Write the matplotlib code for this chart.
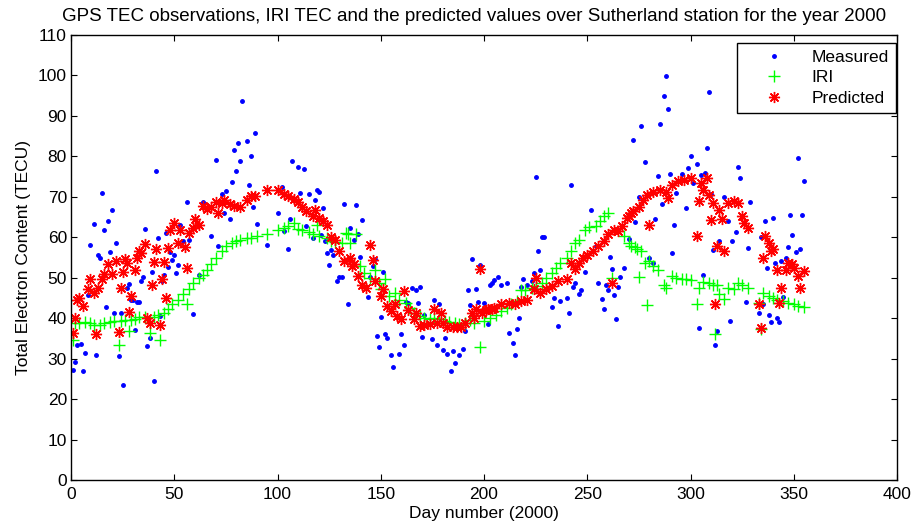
from matplotlib import pyplot as plt

# Measured GPS TEC (day, TECU).
meas_day = [1, 2, 3, 5, 6, 7, 8, 9, 11, 12, 13, 14, 15, 16, 17, 18, 19, 20, 21, 22,
            23, 24, 25, 27, 28, 29, 30, 31, 32, 33, 34, 35, 36, 37, 38, 39, 40, 41, 42, 43,
            44, 45, 46, 47, 48, 49, 50, 51, 52, 53, 54, 56, 57, 59, 62, 64, 68, 70, 71, 73,
            74, 75, 77, 78, 79, 80, 81, 82, 83, 85, 86, 87, 88, 89, 90, 95, 100, 102, 103, 105,
            106, 107, 110, 111, 113, 114, 115, 117, 118, 119, 120, 121, 122, 123, 124, 125, 126, 127, 129, 130,
            131, 132, 134, 135, 137, 138, 139, 140, 141, 144, 145, 146, 147, 148, 149, 150, 151, 152, 153, 155,
            156, 159, 160, 161, 162, 163, 165, 167, 168, 169, 170, 171, 175, 176, 177, 178, 180, 181, 182, 184,
            185, 186, 188, 190, 191, 192, 193, 194, 196, 197, 198, 200, 202, 203, 204, 205, 207, 208, 211, 212,
            214, 215, 216, 217, 218, 219, 221, 223, 224, 225, 226, 227, 228, 229, 233, 234, 236, 237, 240, 241,
            242, 243, 244, 246, 247, 249, 252, 254, 255, 257, 258, 259, 260, 261, 262, 263, 264, 265, 266, 268,
            270, 272, 273, 275, 276, 278, 280, 282, 283, 284, 285, 286, 287, 288, 289, 290, 291, 292, 293, 296,
            298, 299, 300, 301, 303, 304, 305, 306, 307, 308, 309, 310, 311, 312, 313, 314, 316, 318, 319, 320,
            322, 323, 324, 327, 328, 329, 333, 334, 335, 336, 337, 338, 339, 340, 341, 342, 343, 344, 345, 346,
            347, 348, 349, 351, 352, 353, 354, 355]
meas_tec = [27.2, 29.1, 33.4, 33.6, 27.0, 31.5, 45.8, 58.2, 63.4, 31.0, 55.5, 54.8, 71.0, 61.7, 42.8, 63.9, 56.3, 66.8, 41.3, 58.5,
            30.7, 41.4, 23.6, 47.4, 48.5, 44.6, 44.5, 37.0, 44.1, 43.9, 49.3, 50.2, 62.0, 33.1, 35.0, 51.5, 24.4, 76.4, 59.7, 40.6,
            49.2, 50.6, 61.1, 52.7, 56.3, 54.3, 55.7, 51.2, 53.1, 63.0, 59.2, 68.6, 59.4, 41.0, 50.7, 68.7, 60.2, 79.0, 57.9, 70.7,
            66.0, 71.4, 64.5, 73.7, 81.6, 76.3, 83.4, 78.8, 93.6, 83.7, 73.0, 80.0, 67.4, 85.7, 63.4, 58.2, 66.0, 72.4, 61.5, 57.2,
            64.4, 78.9, 77.3, 70.9, 76.9, 62.9, 70.8, 59.7, 69.3, 71.8, 71.1, 60.5, 67.2, 59.1, 56.2, 53.1, 56.9, 55.7, 49.2, 50.1,
            50.1, 68.2, 43.6, 62.3, 59.4, 67.9, 60.7, 55.2, 64.3, 45.2, 50.1, 52.8, 54.7, 35.5, 32.9, 40.4, 51.5, 36.0, 35.1, 30.8,
            27.9, 31.1, 36.2, 33.4, 44.1, 43.7, 47.5, 46.9, 43.7, 47.7, 35.3, 40.7, 34.9, 44.4, 33.4, 43.6, 32.1, 35.0, 31.1, 27.0,
            31.8, 28.8, 31.0, 32.5, 36.9, 46.9, 43.2, 54.6, 47.3, 43.9, 53.2, 43.8, 38.6, 48.3, 48.8, 49.5, 50.3, 48.1, 48.7, 36.3,
            33.8, 30.8, 37.3, 40.1, 47.7, 49.7, 48.1, 49.3, 51.2, 75.0, 56.7, 51.9, 60.0, 60.0, 42.8, 45.0, 38.1, 44.2, 45.1, 41.3,
            72.8, 47.8, 48.7, 45.9, 46.9, 51.3, 66.8, 57.9, 48.7, 44.7, 42.2, 48.1, 46.9, 55.2, 52.1, 45.7, 39.9, 47.7, 50.3, 52.3,
            59.6, 84.1, 63.8, 70.0, 87.5, 78.7, 54.9, 53.7, 64.5, 75.1, 88.1, 68.2, 94.8, 99.9, 91.7, 75.6, 56.2, 63.0, 71.0, 75.7,
            67.2, 77.2, 80.1, 73.3, 78.0, 37.6, 75.4, 50.7, 75.9, 82.1, 95.9, 70.8, 56.8, 33.3, 36.9, 59.1, 70.0, 64.1, 39.4, 59.0,
            61.4, 77.3, 74.7, 44.0, 57.4, 68.6, 41.3, 60.1, 43.4, 63.9, 52.5, 40.8, 39.0, 64.8, 53.7, 40.0, 39.0, 54.1, 45.2, 54.8,
            57.5, 65.5, 60.6, 56.4, 79.7, 57.2, 65.5, 73.9]

# IRI model TEC.
iri_day = [1, 2, 4, 7, 9, 11, 14, 16, 19, 21, 23, 24, 26, 28, 29, 31, 33, 36, 38, 40,
           42, 43, 45, 47, 49, 52, 54, 56, 57, 59, 62, 64, 66, 68, 70, 73, 75, 78, 80, 82,
           85, 87, 90, 95, 100, 103, 105, 108, 110, 112, 115, 117, 119, 120, 124, 126, 128, 131, 133, 134,
           135, 138, 140, 142, 145, 147, 149, 150, 152, 154, 157, 159, 162, 164, 166, 169, 171, 174, 176, 178,
           181, 183, 186, 188, 191, 193, 195, 198, 200, 203, 206, 208, 211, 213, 216, 218, 220, 223, 225, 228,
           230, 233, 235, 237, 240, 242, 244, 246, 249, 251, 254, 256, 258, 260, 262, 268, 270, 271, 273, 274,
           275, 276, 278, 279, 280, 282, 284, 287, 288, 291, 293, 296, 298, 300, 303, 304, 306, 309, 311, 312,
           313, 314, 316, 318, 321, 323, 325, 328, 333, 334, 335, 338, 340, 342, 345, 347, 350, 352, 355]
iri_tec = [34.5, 38.7, 38.7, 39.0, 38.7, 38.2, 38.2, 38.7, 39.0, 39.3, 33.3, 39.3, 39.5, 36.9, 39.6, 39.9, 40.3, 40.4, 36.4, 40.4,
           40.9, 34.6, 41.3, 42.2, 43.4, 44.6, 45.9, 43.6, 47.1, 48.7, 49.9, 50.7, 52.0, 53.3, 54.9, 56.5, 57.8, 58.5, 59.0, 59.4,
           59.7, 59.9, 60.2, 60.8, 61.7, 62.3, 62.7, 63.5, 62.1, 61.7, 61.2, 60.8, 63.1, 60.2, 59.8, 59.2, 58.8, 58.7, 61.1, 60.8,
           58.7, 60.7, 52.8, 51.2, 49.9, 52.0, 48.7, 47.1, 49.6, 45.5, 46.3, 44.6, 43.8, 42.6, 41.3, 40.5, 40.1, 39.7, 40.1, 39.7,
           39.3, 39.0, 38.7, 38.5, 38.7, 39.5, 38.7, 32.8, 39.3, 40.1, 40.9, 41.8, 42.6, 43.4, 44.2, 46.9, 46.9, 47.5, 47.9, 48.7,
           49.9, 51.2, 52.4, 53.7, 54.9, 56.5, 58.6, 59.4, 61.9, 62.6, 62.7, 63.9, 65.2, 66.0, 49.9, 60.2, 58.6, 57.8, 57.5, 57.0,
           50.1, 56.5, 53.7, 43.3, 54.1, 52.8, 52.0, 48.3, 47.5, 50.4, 49.9, 49.7, 49.6, 49.4, 43.6, 47.5, 48.9, 48.7, 48.3, 36.0,
           48.1, 45.9, 44.8, 47.5, 47.1, 48.7, 48.1, 47.5, 43.8, 37.4, 46.1, 45.5, 45.0, 44.6, 44.2, 43.8, 43.4, 43.0, 42.8]

# Predicted TEC.
pred_day = [1, 2, 3, 4, 6, 8, 9, 11, 12, 13, 15, 16, 18, 20, 22, 23, 24, 25, 26, 27,
            28, 29, 31, 32, 33, 34, 36, 37, 38, 39, 40, 41, 43, 44, 45, 46, 47, 48, 50, 52,
            53, 55, 56, 57, 59, 60, 62, 64, 66, 68, 70, 71, 73, 74, 77, 79, 82, 85, 87, 89,
            95, 100, 103, 105, 108, 110, 112, 114, 117, 118, 120, 122, 124, 126, 128, 130, 132, 135, 136, 137,
            139, 141, 143, 145, 146, 147, 150, 151, 153, 155, 157, 158, 160, 161, 163, 166, 167, 169, 171, 174,
            176, 177, 179, 180, 182, 185, 187, 189, 191, 194, 195, 196, 198, 199, 201, 202, 204, 205, 208, 212,
            215, 218, 221, 224, 225, 227, 230, 233, 236, 240, 242, 244, 246, 248, 250, 253, 255, 258, 260, 262,
            263, 265, 267, 269, 270, 271, 272, 275, 277, 279, 280, 282, 285, 288, 289, 291, 294, 297, 300, 303,
            304, 305, 306, 308, 309, 310, 311, 312, 313, 314, 315, 316, 318, 321, 323, 325, 326, 328, 333, 334,
            335, 336, 338, 339, 340, 342, 343, 344, 346, 347, 349, 350, 352, 353, 355]
pred_tec = [36.3, 40.1, 44.6, 45.0, 43.0, 47.1, 49.7, 46.1, 36.2, 47.4, 49.6, 51.0, 53.5, 51.0, 54.1, 36.6, 47.4, 51.4, 54.7, 53.7,
            41.6, 45.5, 52.0, 54.8, 56.5, 56.1, 58.4, 40.1, 38.9, 48.2, 53.9, 57.2, 38.3, 49.7, 53.9, 45.0, 57.4, 61.7, 63.5, 58.6,
            61.9, 57.5, 52.3, 61.1, 62.3, 64.6, 63.1, 67.7, 67.0, 67.4, 68.7, 66.0, 68.5, 69.1, 68.2, 67.8, 67.6, 69.1, 70.1, 70.3,
            71.6, 71.8, 70.7, 70.1, 69.5, 68.6, 67.6, 66.4, 65.2, 66.8, 64.8, 63.9, 63.1, 60.0, 59.4, 56.5, 54.1, 54.9, 52.8, 53.3,
            50.4, 48.3, 47.5, 58.0, 54.5, 49.2, 45.5, 47.1, 43.0, 41.8, 43.4, 40.5, 39.7, 46.7, 42.0, 39.9, 41.3, 38.1, 38.2, 38.5,
            42.3, 38.9, 41.3, 38.9, 37.7, 37.7, 37.9, 37.9, 38.9, 41.2, 40.1, 42.2, 52.2, 41.3, 42.0, 42.2, 42.3, 42.6, 43.4, 43.8,
            43.4, 44.2, 44.6, 47.1, 50.0, 46.3, 47.1, 47.9, 49.2, 49.6, 53.7, 52.2, 53.7, 54.9, 55.7, 56.5, 57.8, 59.0, 60.7, 48.7,
            61.9, 61.5, 62.7, 64.8, 65.2, 66.0, 66.4, 67.6, 69.3, 70.5, 63.1, 71.3, 71.8, 71.3, 69.7, 73.0, 73.8, 74.2, 74.6, 60.4,
            68.9, 73.4, 71.8, 74.6, 70.5, 64.2, 68.5, 43.6, 57.8, 66.8, 64.4, 56.5, 68.5, 68.9, 68.5, 65.2, 63.5, 62.3, 43.4, 37.5,
            54.9, 60.2, 58.6, 56.5, 57.1, 51.8, 43.8, 47.5, 51.8, 53.7, 53.3, 52.5, 50.4, 47.5, 51.6]

plt.rcParams['font.family'] = ['Liberation Sans', 'DejaVu Sans']

# Plot data.
fig = plt.figure(dpi=100, figsize=(9.12, 5.24))
ax = fig.add_axes([0.0779, 0.0840, 0.9057, 0.8492])
ax.plot(meas_day, meas_tec, '.', color='#0000ff', markersize=5, label='Measured')
ax.plot(iri_day, iri_tec, '+', color='#00ff00', markersize=8, markeredgewidth=1, label='IRI')
ax.plot(pred_day, pred_tec, linestyle='none', marker=(8, 2, 0), color='#ff0000',
        markersize=8, markeredgewidth=1, label='Predicted')

# Format plot.
ax.set_xlim(0, 400)
ax.set_ylim(0, 110)
ax.set_xticks(range(0, 401, 50))
ax.set_yticks(range(0, 111, 10))
ax.tick_params(axis='both', direction='in', top=True, right=True, labelsize=12.5, length=4, pad=3)
ax.tick_params(axis='x', pad=5)
for s in ax.spines.values():
    s.set_linewidth(1.0)
ax.set_title("GPS TEC observations, IRI TEC and the predicted values over Sutherland station for the year 2000",
             fontsize=13.5, pad=10, x=0.4885)
ax.set_xlabel("Day number (2000)", fontsize=12.5, labelpad=3)
ax.set_ylabel("Total Electron Content (TECU)", fontsize=12.5, labelpad=5)
leg = ax.legend(loc='upper right', bbox_to_anchor=(0.9825, 0.918), bbox_transform=fig.transFigure,
                borderaxespad=0, fancybox=False, edgecolor='black', framealpha=1, numpoints=1,
                fontsize=12.5, handlelength=3.4, handletextpad=0.5, labelspacing=0.3,
                borderpad=0.4)
leg.get_frame().set_linewidth(1.0)

plt.savefig('out.png', dpi=100)
